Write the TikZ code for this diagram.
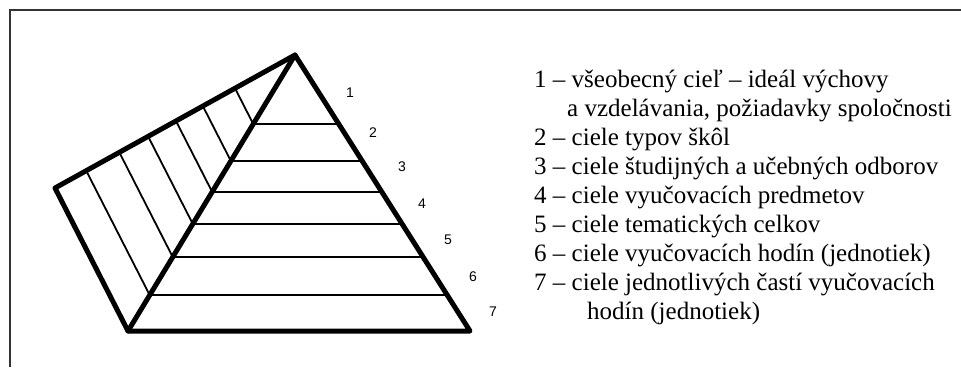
\documentclass[tikz,border=0pt]{standalone}
\usepackage{fontspec}
\setmainfont{Liberation Serif}
\newfontfamily\numfont{Liberation Sans}
\usetikzlibrary{calc}

\tikzset{
    outline/.style={line width=5pt, line join=round, line cap=round},
    level/.style={line width=1.8pt},
    levelno/.style={font=\numfont\fontsize{14}{15}\selectfont, inner sep=0pt},
    legend/.style={font=\fontsize{25}{29}\selectfont, anchor=base west, inner sep=0pt}
}

\begin{document}
\begin{tikzpicture}[x=1pt, y=-1pt]
    \useasboundingbox (0,0) rectangle (961,367);
    \draw[line width=2pt, color=black!80] (10,367) -- (10,10) -- (961,10);

    \coordinate (apex) at (295,55);
    \coordinate (left) at (55,188);
    \coordinate (bl) at (128,331);
    \coordinate (br) at (470,331);

    % levels of the pyramid and the hatching on the side face
    \foreach \t in {0.25,0.384,0.496,0.612,0.732,0.87} {
        \draw[level] ($(apex)!\t!(bl)$) -- ($(apex)!\t!(br)$);
        \draw[level] ($(apex)!\t!(bl)$) -- ($(apex)!\t!(left)$);
    }

    \draw[outline] (apex) -- (left) -- (bl) -- (br) -- cycle;
    \draw[outline] (apex) -- (bl);

    \node[levelno] (n1) at (350,93) {1};
    \node[levelno] (n2) at (373,133) {2};
    \node[levelno] (n3) at (402,167) {3};
    \node[levelno] (n4) at (422,204) {4};
    \node[levelno] (n5) at (448,240) {5};
    \node[levelno] (n6) at (473,277) {6};
    \node[levelno] (n7) at (493,312) {7};

    \node[legend] (t1) at (534,87) {1 -- všeobecný cieľ -- ideál výchovy};
    \node[legend] (t1b) at (567,116) {a vzdelávania, požiadavky spoločnosti};
    \node[legend] (t2) at (534,145) {2 -- ciele typov škôl};
    \node[legend] (t3) at (534,174) {3 -- ciele študijných a učebných odborov};
    \node[legend] (t4) at (534,203) {4 -- ciele vyučovacích predmetov};
    \node[legend] (t5) at (534,232) {5 -- ciele tematických celkov};
    \node[legend] (t6) at (534,261) {6 -- ciele vyučovacích hodín (jednotiek)};
    \node[legend] (t7) at (534,290) {7 -- ciele jednotlivých častí vyučovacích};
    \node[legend] (t7b) at (587,319) {hodín (jednotiek)};
\end{tikzpicture}
\end{document}
